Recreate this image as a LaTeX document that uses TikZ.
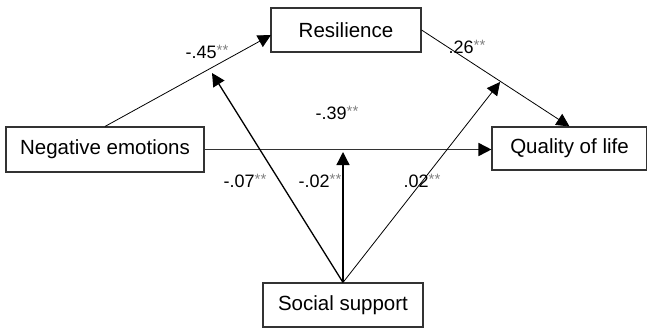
\documentclass[tikz,border=0pt]{standalone}
\usepackage{fontspec}
\setmainfont{Liberation Sans}
\usetikzlibrary{arrows.meta}
\definecolor{starcol}{gray}{0.5}
\definecolor{linecol}{gray}{0.2}
\newcommand{\coef}[1]{#1{\color{starcol}\fontsize{15}{15}\selectfont\raisebox{3pt}{**}}}
\begin{document}
\begin{tikzpicture}[x=1pt,y=-1pt,
  box/.style={draw=linecol,line width=1.1pt,inner sep=0pt,font=\fontsize{20.5}{24}\selectfont},
  path/.style={line width=0.8pt,-{Triangle[length=13pt,width=13pt]}},
  pathb/.style={line width=1.3pt,-{Triangle[length=13pt,width=13pt]}},
  lab/.style={inner sep=0pt,font=\fontsize{18}{20}\selectfont}]
\useasboundingbox (0,0) rectangle (647,329);
\node[box,minimum width=150pt,minimum height=44pt] (res) at (346,30) {Resilience};
\node[box,minimum width=198pt,minimum height=45pt] (ne) at (105,149.5) {Negative emotions};
\node[box,minimum width=155pt,minimum height=43pt] (qol) at (569.5,148.5) {Quality of life};
\node[box,minimum width=160pt,minimum height=44pt] (ss) at (343,305) {Social support};
\coordinate (m1) at (212,73);
\coordinate (m2) at (343,152);
\coordinate (m3) at (500,82);
\coordinate (rin) at (271,35);
\draw[path] (ne.north) -- (rin);
\draw[path] (res.east) -- (qol.north);
\draw[pathb,line width=1.6pt,draw=linecol,-{Triangle[length=13pt,width=13pt,color=black]}] (ne.east) -- (ne.east -| qol.west);
\draw[pathb] (ss.north) -- (m1);
\draw[pathb] (ss.north) -- (m2);
\draw[path] (ss.north) -- (m3);
\node[lab] (l45) at (207,52) {\coef{-.45}};
\node[lab] (l26) at (467,47) {\coef{.26}};
\node[lab] (l39) at (337,113) {\coef{-.39}};
\node[lab] (l07) at (245,181) {\coef{-.07}};
\node[lab] (l02a) at (320,181) {\coef{-.02}};
\node[lab] (l02b) at (422,181) {\coef{.02}};
\end{tikzpicture}
\end{document}
